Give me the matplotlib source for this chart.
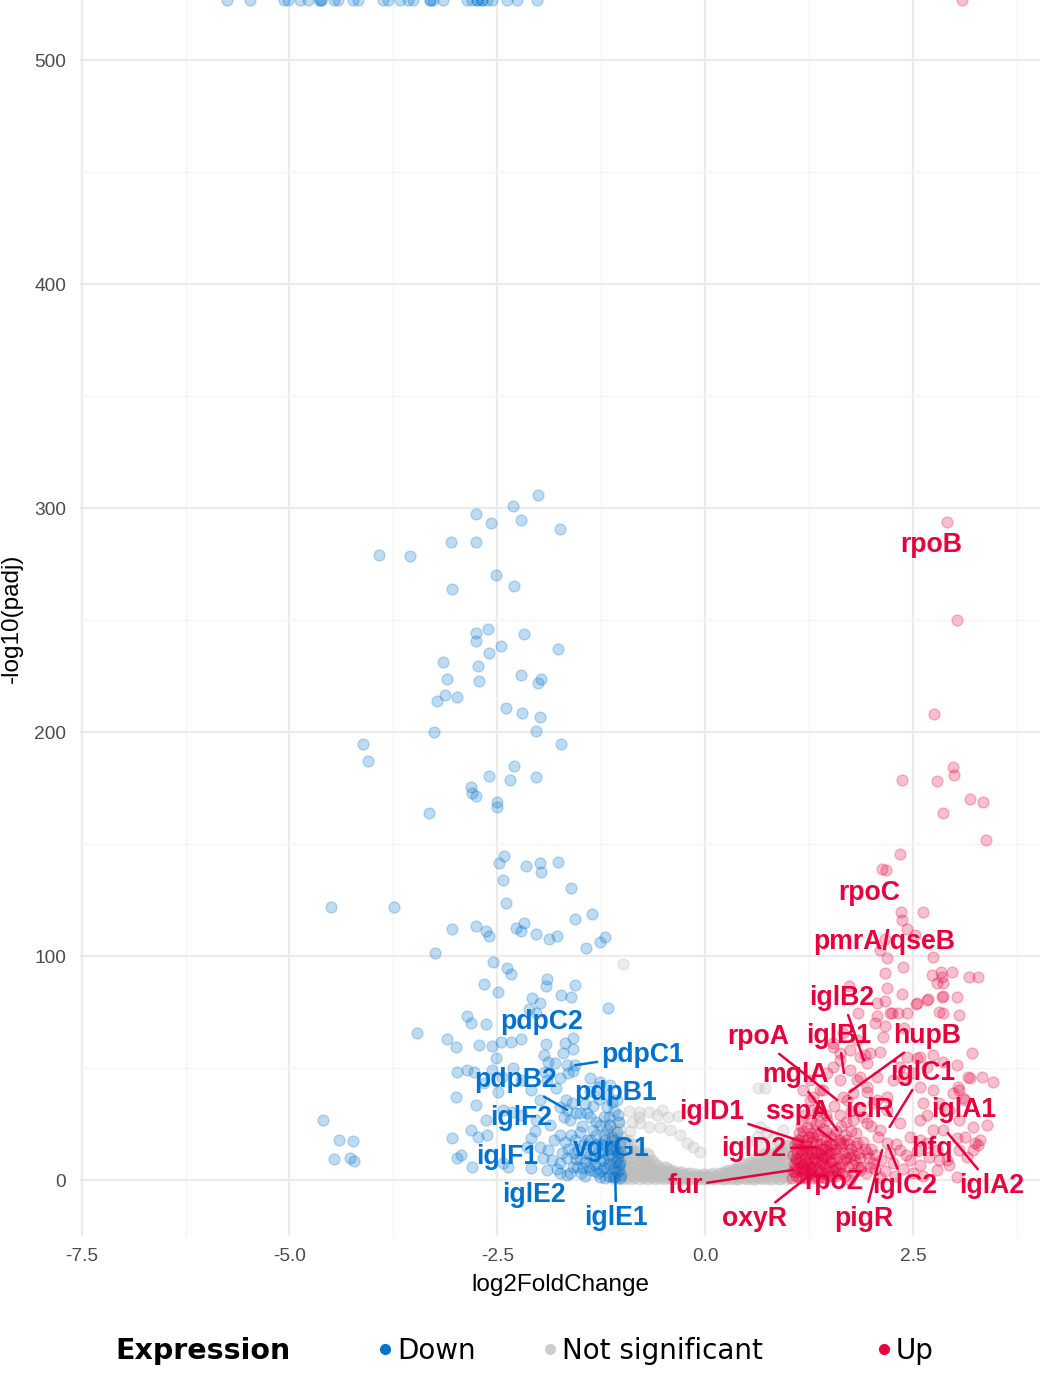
#volcano plot - down / not significant / up genes

import matplotlib.pyplot as plt
from matplotlib.lines import Line2D
from matplotlib.ticker import FixedLocator

col_down = '#0072CE'
col_ns = '#BDBDBD'
col_up = '#E6003C'

#down-regulated genes (log2FoldChange, -log10(padj))
down_pts = [
    (-2.01, 305.8), (-2.31, 300.9), (-2.76, 297.3), (-2.57, 293.3), (-2.22, 294.6), (-1.75, 290.6),
    (-3.06, 284.8), (-2.75, 284.8), (-3.92, 279.0), (-3.55, 278.6), (-2.52, 270.1), (-2.30, 265.2),
    (-3.05, 263.8), (-2.61, 246.0), (-2.75, 244.2), (-2.18, 243.8), (-2.75, 240.6), (-2.46, 238.4),
    (-1.77, 237.1), (-2.60, 235.3), (-3.15, 231.2), (-2.73, 229.5), (-2.22, 225.4), (-1.97, 223.7),
    (-2.01, 221.9), (-3.11, 223.7), (-2.72, 222.8), (-3.13, 216.5), (-2.98, 215.6), (-3.23, 213.8),
    (-2.40, 210.7), (-2.20, 208.5), (-1.98, 206.7), (-2.03, 200.4), (-3.26, 200.0), (-1.73, 194.6),
    (-4.11, 194.6), (-4.06, 187.1), (-2.30, 184.8), (-2.60, 180.4), (-2.03, 179.9), (-2.35, 178.6),
    (-2.82, 175.4), (-2.80, 172.8), (-2.75, 171.4), (-2.50, 168.8), (-2.50, 166.5), (-3.32, 163.8),
    (-2.48, 141.5), (-2.42, 144.6), (-1.98, 141.5), (-1.77, 142.0), (-2.15, 140.2), (-1.97, 137.5),
    (-2.43, 133.9), (-1.61, 130.4), (-4.50, 121.9), (-3.74, 121.9), (-2.39, 123.7), (-1.36, 118.8),
    (-1.56, 116.5), (-2.75, 113.4), (-2.18, 114.7), (-3.04, 112.1), (-2.64, 111.2), (-2.28, 112.5),
    (-2.60, 108.9), (-2.22, 111.2), (-2.04, 109.8), (-1.78, 108.9), (-1.88, 107.6), (-1.20, 108.5),
    (-1.26, 106.3), (-1.43, 103.6), (-3.25, 101.3), (-2.55, 97.3), (-2.38, 94.6), (-2.34, 92.0),
    (-2.66, 87.5), (-2.49, 83.9), (-1.90, 89.7), (-1.91, 86.6), (-1.57, 87.1), (-1.73, 82.6),
    (-1.61, 81.7), (-2.08, 81.3), (-1.98, 79.0), (-2.12, 76.3), (-2.04, 74.6), (-1.17, 76.8),
    (-2.87, 73.2), (-2.82, 70.1), (-2.64, 69.6), (-3.11, 62.9), (-3.00, 59.4), (-2.72, 60.3),
    (-2.56, 59.8), (-2.45, 61.6), (-2.33, 61.6), (-2.21, 62.9), (-1.91, 60.7), (-1.68, 61.2),
    (-1.59, 63.4), (-3.46, 65.6), (-4.60, 26.8), (-4.40, 17.9), (-4.24, 17.4), (-4.46, 9.4),
    (-4.27, 9.8), (-4.22, 8.5),
    (-2.51, 54.5), (-2.56, 49.1), (-2.31, 50.0), (-2.44, 46.0), (-2.99, 48.2), (-2.87, 49.1),
    (-2.78, 48.2), (-3.00, 37.1), (-1.94, 55.8), (-1.89, 52.7), (-1.80, 52.2), (-1.66, 51.3),
    (-1.71, 56.7), (-1.59, 58.5), (-1.92, 48.2), (-1.90, 44.6), (-1.75, 45.5), (-1.65, 47.8),
    (-1.59, 48.7), (-1.38, 45.5), (-1.26, 43.8), (-1.38, 39.7), (-1.29, 41.5), (-1.17, 37.9),
    (-1.06, 35.7), (-1.05, 29.0), (-1.18, 32.6), (-1.79, 41.1), (-1.67, 35.7), (-1.60, 34.4),
    (-1.74, 32.6), (-1.50, 29.9), (-1.38, 28.1), (-1.26, 24.6), (-1.35, 22.3), (-2.43, 31.3),
    (-2.32, 30.4), (-2.20, 29.0), (-2.73, 19.2), (-2.62, 20.1), (-2.98, 9.8), (-2.94, 11.2),
    (-2.80, 5.8), (-2.10, 18.8), (-2.14, 14.7), (-1.98, 14.7), (-1.89, 13.4), (-1.84, 8.9),
    (-1.74, 7.6), (-1.66, 9.8), (-1.59, 5.8), (-1.47, 5.4), (-1.38, 4.5), (-1.29, 3.1),
    (-1.18, 5.4), (-1.06, 3.6), (-1.02, 7.6), (-1.12, 10.3), (-1.24, 12.5), (-1.35, 14.7),
    (-1.42, 17.9), (-1.50, 21.4), (-1.06, 21.4), (-1.02, 17.0), (-2.43, 7.6), (-2.37, 5.8),
    (-2.10, 5.4), (-1.90, 4.5), (-1.74, 3.1), (-1.66, 2.2),
    (-2.66, 43.3), (-2.49, 39.3), (-2.76, 33.5), (-2.63, 26.8), (-2.22, 44.6), (-2.10, 40.2),
    (-1.98, 35.7), (-2.04, 26.8), (-1.86, 24.6), (-1.74, 20.1), (-1.62, 26.8), (-1.56, 17.9),
    (-1.20, 17.9), (-1.14, 24.6), (-1.08, 13.4), (-1.04, 6.7), (-1.01, 2.2), (-1.26, 8.9),
    (-1.38, 11.2), (-1.53, 13.4), (-1.44, 8.0), (-1.32, 6.7), (-1.11, 1.3), (-1.20, 0.9),
    (-1.02, 0.9), (-1.14, 42.4), (-2.82, 22.3), (-3.04, 18.8), (-1.56, 51.3), (-1.66, 31.3),
    (-1.08, 1.3), (-1.45, 2.0), (-1.55, 9.5), (-1.65, 14.0), (-1.30, 16.0), (-1.22, 20.0),
    (-1.15, 28.0), (-1.10, 15.0), (-1.05, 10.0), (-1.16, 7.0), (-1.25, 4.0), (-1.48, 24.0),
    (-1.70, 28.0), (-1.82, 18.0), (-1.95, 10.0), (-2.05, 22.0), (-1.35, 33.0), (-1.28, 36.0),
    (-1.12, 19.0), (-1.18, 23.0), (-1.42, 30.0),
    (-1.03, 4.5), (-1.05, 12.0), (-1.07, 8.0), (-1.09, 18.0), (-1.10, 5.0), (-1.13, 14.0),
    (-1.15, 2.0), (-1.17, 11.0), (-1.19, 15.0), (-1.21, 6.0), (-1.23, 9.0), (-1.25, 16.0),
    (-1.27, 1.5), (-1.29, 12.0), (-1.31, 20.0), (-1.33, 4.0), (-1.36, 9.5), (-1.38, 18.0),
    (-1.40, 6.0), (-1.43, 12.0), (-1.46, 16.0), (-1.49, 3.0), (-1.51, 10.0), (-1.54, 6.0),
    (-1.58, 12.0), (-1.61, 20.0), (-1.63, 3.0), (-1.69, 17.0), (-1.72, 12.0), (-1.78, 5.0),
    (-1.04, 26.0), (-1.09, 31.0), (-1.22, 28.0), (-1.31, 26.0), (-1.45, 34.0), (-1.55, 30.0),
    (-1.12, 35.0), (-1.02, 12.5),
]
#padj == 0 -> -log10 is Inf, ggplot puts those on the top edge
down_inf_x = [-5.75, -5.47, -5.07, -5.02, -4.87, -4.78, -4.65, -4.62, -4.62, -4.47, -4.42, -4.23,
              -4.18, -3.88, -3.82, -3.67, -3.57, -3.51, -3.31, -3.31, -3.27, -3.15, -2.86, -2.80,
              -2.74, -2.74, -2.68, -2.68, -2.62, -2.56, -2.38, -2.26, -2.02]

#not significant
ns_pts = [
    (-1.15, 2), (-1.15, 8), (-1.15, 14), (-1.15, 20), (-1.15, 25),
    (-1.10, 0.5), (-1.10, 4), (-1.10, 10), (-1.10, 16), (-1.10, 22),
    (-1.05, 1), (-1.05, 6), (-1.05, 12), (-1.05, 18), (-1.05, 26),
    (-1.00, 0.5), (-1.00, 3), (-1.00, 7), (-1.00, 11), (-1.00, 15), (-1.00, 19),
    (-0.95, 1), (-0.95, 5), (-0.95, 9), (-0.95, 13), (-0.95, 17),
    (-0.90, 0.5), (-0.90, 3), (-0.90, 6), (-0.90, 10), (-0.90, 14), (-0.90, 22),
    (-0.85, 1), (-0.85, 4), (-0.85, 8), (-0.85, 12), (-0.85, 16),
    (-0.80, 0.5), (-0.80, 2.5), (-0.80, 5), (-0.80, 9), (-0.80, 13), (-0.80, 28),
    (-0.75, 1), (-0.75, 3.5), (-0.75, 7), (-0.75, 10),
    (-0.70, 0.5), (-0.70, 2), (-0.70, 5), (-0.70, 8), (-0.70, 12),
    (-0.65, 1), (-0.65, 3), (-0.65, 6), (-0.65, 9),
    (-0.60, 0.5), (-0.60, 2), (-0.60, 4), (-0.60, 7),
    (-0.55, 1), (-0.55, 3), (-0.55, 5.5),
    (-0.50, 0.5), (-0.50, 2), (-0.50, 4), (-0.50, 6),
    (-0.45, 1), (-0.45, 3), (-0.45, 5),
    (-0.40, 0.5), (-0.40, 2), (-0.40, 4),
    (-0.35, 1), (-0.35, 3), (-0.30, 0.5), (-0.30, 2), (-0.30, 3.5),
    (-0.25, 1), (-0.25, 2.5), (-0.20, 0.3), (-0.20, 1.5), (-0.20, 3),
    (-0.15, 0.8), (-0.15, 2), (-0.10, 0.3), (-0.10, 1.5), (-0.10, 2.5),
    (-0.05, 0.8), (-0.05, 2), (0.00, 0.3), (0.00, 1.5), (0.00, 2.5),
    (0.05, 0.8), (0.05, 2), (0.10, 0.3), (0.10, 1.5), (0.10, 3),
    (0.15, 0.8), (0.15, 2.5), (0.20, 0.3), (0.20, 1.5), (0.20, 3),
    (0.25, 1), (0.25, 2.5), (0.25, 4), (0.30, 0.5), (0.30, 2), (0.30, 3.5),
    (0.35, 1), (0.35, 3), (0.35, 5), (0.40, 0.5), (0.40, 2), (0.40, 4), (0.40, 6),
    (0.45, 1), (0.45, 3), (0.45, 5), (0.50, 0.5), (0.50, 2), (0.50, 4), (0.50, 6.5),
    (0.55, 1), (0.55, 3), (0.55, 5.5), (0.55, 8), (0.60, 0.5), (0.60, 2), (0.60, 4), (0.60, 7),
    (0.65, 1), (0.65, 3), (0.65, 6), (0.65, 9),
    (0.70, 0.5), (0.70, 2.5), (0.70, 5), (0.70, 8), (0.70, 11),
    (0.75, 1), (0.75, 4), (0.75, 7), (0.75, 10),
    (0.80, 0.5), (0.80, 3), (0.80, 6), (0.80, 9), (0.80, 12),
    (0.85, 1.5), (0.85, 5), (0.85, 8), (0.85, 11),
    (0.90, 0.5), (0.90, 3), (0.90, 7), (0.90, 10), (0.90, 14),
    (0.95, 2), (0.95, 6), (0.95, 12), (0.95, 16),
    (1.00, 1), (1.00, 4), (1.00, 9), (1.00, 15),
    (-1.125, 3), (-1.125, 7), (-1.125, 12), (-1.125, 18),
    (-1.075, 2), (-1.075, 8), (-1.075, 14), (-1.075, 20),
    (-1.025, 1.5), (-1.025, 5), (-1.025, 9), (-1.025, 13), (-1.025, 17), (-1.025, 23),
    (-0.975, 2), (-0.975, 4), (-0.975, 8), (-0.975, 12), (-0.975, 16),
    (-0.925, 1.5), (-0.925, 4.5), (-0.925, 8), (-0.925, 12), (-0.925, 18),
    (-0.875, 2), (-0.875, 6), (-0.875, 10), (-0.875, 14),
    (-0.825, 1.5), (-0.825, 3.5), (-0.825, 7), (-0.825, 11), (-0.825, 15),
    (-0.775, 2), (-0.775, 5), (-0.775, 8.5), (-0.775, 12),
    (-0.725, 1.5), (-0.725, 3.5), (-0.725, 6.5), (-0.725, 9.5),
    (-0.675, 2), (-0.675, 4.5), (-0.675, 7.5), (-0.675, 11),
    (-0.625, 1.5), (-0.625, 3.5), (-0.625, 5.5), (-0.625, 8.5),
    (-0.575, 2), (-0.575, 4), (-0.575, 6.5),
    (-0.525, 1), (-0.525, 3), (-0.525, 5),
    (-0.475, 1.5), (-0.475, 3.5), (-0.475, 6),
    (-0.425, 1), (-0.425, 3), (-0.425, 4.5),
    (-0.375, 0.5), (-0.375, 2), (-0.375, 4),
    (-0.325, 1.5), (-0.325, 3), (-0.275, 0.5), (-0.275, 2), (-0.275, 3.5),
    (-0.225, 1), (-0.225, 2.5), (-0.175, 0.3), (-0.175, 1.5), (-0.175, 3),
    (-0.125, 1), (-0.125, 2.5), (-0.075, 0.3), (-0.075, 1.8), (-0.025, 1), (-0.025, 2.8),
    (0.025, 0.3), (0.025, 1.8), (0.075, 1), (0.075, 2.8), (0.125, 0.3), (0.125, 2),
    (0.175, 1), (0.175, 3), (0.225, 0.5), (0.225, 2), (0.225, 3.5),
    (0.275, 1.5), (0.275, 3), (0.275, 4.5), (0.325, 1), (0.325, 2.5), (0.325, 4.5),
    (0.375, 0.5), (0.375, 2), (0.375, 4), (0.375, 5.5),
    (0.425, 1.5), (0.425, 3.5), (0.425, 5.5), (0.425, 7),
    (0.475, 1), (0.475, 2.5), (0.475, 4.5), (0.475, 7),
    (0.525, 1.5), (0.525, 3.5), (0.525, 5), (0.525, 8),
    (0.575, 0.5), (0.575, 2), (0.575, 4.5), (0.575, 7), (0.575, 9),
    (0.625, 1.5), (0.625, 3.5), (0.625, 5.5), (0.625, 8.5),
    (0.675, 1), (0.675, 2), (0.675, 4.5), (0.675, 7), (0.675, 10),
    (0.725, 1.5), (0.725, 3.5), (0.725, 6.5), (0.725, 9.5), (0.725, 12),
    (0.775, 0.5), (0.775, 2.5), (0.775, 5.5), (0.775, 8.5), (0.775, 11.5),
    (0.825, 1.5), (0.825, 4), (0.825, 7.5), (0.825, 10.5), (0.825, 14),
    (0.875, 0.5), (0.875, 3), (0.875, 6.5), (0.875, 9.5), (0.875, 13),
    (0.925, 1.5), (0.925, 4.5), (0.925, 8.5), (0.925, 11.5),
    (0.975, 0.5), (0.975, 3.5), (0.975, 7.5), (0.975, 10.5), (0.975, 14),
    (1.025, 2), (1.025, 6), (1.025, 11), (1.025, 16),
    (-0.99, 96.4), (-0.52, 31.3), (0.64, 41.1), (0.72, 41.1), (0.66, 23.7), (-0.92, 31.0),
    (-0.80, 30.4), (-0.68, 30.4), (-0.58, 29.0), (-0.88, 25.9), (-0.78, 25.4), (-0.68, 23.7),
    (-0.54, 23.7), (-0.42, 22.3), (-0.30, 20.1), (-0.45, 28.0), (-0.33, 28.6), (-0.22, 16.5),
    (-0.15, 14.7), (-0.06, 12.5), (0.50, 16.5), (0.62, 19.2), (0.74, 21.4), (0.82, 18.8),
    (0.90, 16.5), (0.94, 22.3), (0.70, 14.7),
]

#up-regulated genes
up_pts = [
    (2.91, 293.8), (3.03, 250.0), (2.75, 208.0), (2.98, 184.4), (2.99, 181.0), (2.79, 178.1),
    (2.37, 178.6), (3.19, 170.1), (3.34, 168.8), (2.86, 163.8), (3.38, 151.8), (2.34, 145.5),
    (2.13, 138.8), (2.18, 138.4), (2.36, 119.6), (2.62, 119.6), (2.37, 116.1), (2.43, 112.1),
    (2.52, 109.4), (2.16, 107.6), (2.10, 102.7), (2.19, 99.1), (2.74, 99.6), (2.38, 95.1),
    (2.16, 92.4), (2.73, 91.5), (2.84, 92.9), (2.97, 92.9), (2.85, 90.6), (2.79, 87.9),
    (3.17, 90.6), (3.28, 90.6), (1.73, 86.6), (2.19, 85.7), (2.37, 83.0), (2.16, 79.9),
    (2.85, 81.7), (2.86, 82.0), (3.03, 81.7), (2.68, 80.8), (2.54, 78.6), (2.81, 75.0),
    (3.06, 73.7), (1.84, 74.6), (2.07, 73.2), (2.25, 74.6), (2.32, 74.6), (2.04, 70.1),
    (2.16, 68.8), (2.39, 67.9), (2.14, 63.8), (1.83, 62.5), (1.66, 65.6), (1.54, 61.2),
    (1.62, 53.6), (1.74, 49.1), (1.86, 46.0), (2.07, 46.0), (2.26, 44.6), (2.38, 46.0),
    (2.58, 41.5), (2.74, 40.2), (2.82, 34.4), (2.62, 34.4), (2.94, 31.3), (2.67, 29.0),
    (2.74, 22.3), (3.06, 26.8), (3.22, 23.7), (2.58, 17.9), (2.70, 10.3), (3.06, 13.4),
    (3.22, 13.4), (3.15, 10.3), (2.79, 4.5), (3.03, 1.3), (1.92, 55.8), (1.98, 56.7),
    (2.10, 57.1), (2.43, 54.9), (2.55, 54.5), (2.74, 55.8), (3.21, 56.7), (3.03, 51.3),
    (3.19, 45.5), (3.33, 46.0), (3.46, 43.8), (3.06, 40.2), (3.13, 35.7), (3.39, 24.6),
    (2.86, 22.3), (3.03, 18.8), (3.13, 19.2), (3.31, 17.9), (2.79, 13.4), (2.58, 6.7),
    (2.94, 6.7), (2.82, 8.9), (2.67, 16.5), (2.46, 19.2), (2.34, 25.4), (2.58, 26.8),
    (2.19, 31.3), (2.07, 35.7), (1.95, 39.3), (1.78, 38.8), (1.66, 37.1), (1.38, 40.2),
    (1.26, 35.7), (1.30, 31.3), (1.38, 31.3), (1.47, 26.8), (1.78, 26.8), (1.95, 25.4),
    (2.10, 22.3), (2.19, 16.5), (2.34, 13.4), (2.46, 8.9), (2.26, 7.6), (2.02, 7.6),
    (1.95, 12.1), (1.83, 16.5), (1.74, 10.3), (1.66, 16.5), (1.62, 16.5), (1.30, 19.2),
    (1.23, 23.7), (1.18, 13.4), (1.42, 10.3), (1.54, 4.5), (1.86, 4.5), (2.10, 1.3),
    (1.74, 0.0), (1.42, 1.3), (1.26, 5.8), (2.07, 79.0), (2.55, 79.0), (2.67, 80.4),
    (2.86, 87.9), (2.43, 74.6), (2.22, 74.6), (2.86, 74.6), (2.86, 52.7), (3.16, 46.0),
    (3.04, 41.5), (2.98, 38.8), (3.10, 36.6), (3.28, 15.6), (3.25, 16.5), (2.91, 8.9),
    (1.54, 59.4), (1.62, 56.7), (1.74, 58.0), (1.86, 54.9), (1.95, 52.2), (1.54, 50.4),
    (1.47, 47.8), (1.26, 44.6), (1.18, 40.2), (1.30, 37.1), (1.42, 40.2), (1.62, 44.6),
    (1.83, 44.6), (1.95, 41.5), (1.71, 35.7), (1.86, 32.6), (2.02, 34.4), (2.19, 37.1),
    (2.34, 50.4), (2.50, 47.8), (2.58, 54.9), (2.67, 50.4),
    (1.10, 2), (1.12, 5), (1.14, 8), (1.15, 11), (1.15, 14), (1.13, 1), (1.18, 3), (1.18, 7),
    (1.20, 10), (1.20, 16), (1.22, 1), (1.22, 5), (1.24, 12), (1.25, 19), (1.26, 3), (1.27, 8),
    (1.28, 14), (1.30, 1), (1.30, 6), (1.31, 10), (1.32, 22), (1.33, 4), (1.34, 16), (1.35, 8),
    (1.36, 1), (1.37, 12), (1.38, 26), (1.40, 4), (1.40, 18), (1.42, 7), (1.43, 14), (1.44, 1),
    (1.45, 10), (1.46, 22), (1.48, 4), (1.50, 16), (1.50, 8), (1.52, 12), (1.53, 2), (1.55, 20),
    (1.56, 6), (1.58, 14), (1.60, 3), (1.60, 10), (1.63, 24), (1.64, 7), (1.66, 12), (1.68, 2),
    (1.70, 18), (1.72, 6), (1.75, 14), (1.78, 3), (1.80, 9), (1.82, 21), (1.85, 12), (1.88, 6),
    (1.90, 17), (1.94, 3), (1.97, 10), (2.00, 14), (2.04, 5), (2.08, 19), (2.12, 9), (2.16, 4),
    (2.22, 12), (2.28, 2), (2.30, 16), (2.38, 5), (2.42, 11), (2.50, 3), (2.55, 13), (2.62, 2),
    (1.16, 24), (1.19, 29), (1.28, 27), (1.36, 31), (1.45, 29), (1.55, 33), (1.62, 29), (1.70, 26),
    (1.76, 31), (1.90, 28), (2.00, 24), (1.12, 18), (1.10, 9), (1.13, 21),
    (1.05, 1), (1.08, 3.5), (1.10, 6), (1.12, 9), (1.16, 4), (1.20, 2), (1.24, 7), (1.28, 3),
    (1.32, 9), (1.36, 5), (1.40, 11), (1.44, 6), (1.48, 2), (1.52, 8), (1.56, 12), (1.06, 11),
    (1.09, 14), (1.11, 17), (1.17, 19), (1.21, 13), (1.27, 21), (1.34, 13), (1.39, 8), (1.46, 15),
    (1.51, 19), (1.57, 2), (1.62, 6), (1.67, 9), (1.72, 12), (1.77, 7),
    (1.07, 7), (1.09, 10), (1.11, 12), (1.14, 16), (1.17, 1), (1.19, 5), (1.21, 8), (1.23, 15),
    (1.25, 10), (1.27, 5), (1.29, 17), (1.31, 2), (1.33, 12), (1.35, 20), (1.37, 3), (1.39, 14),
    (1.41, 9), (1.43, 3), (1.45, 18), (1.47, 11), (1.49, 6), (1.51, 14), (1.54, 9), (1.58, 5),
    (1.61, 18), (1.65, 3), (1.69, 10), (1.73, 16), (1.79, 11), (1.84, 6), (1.06, 4), (1.08, 16),
    (1.15, 6), (1.18, 22), (1.23, 18), (1.29, 12), (1.33, 25), (1.38, 16), (1.42, 23), (1.48, 13),
    (1.53, 16), (1.58, 22), (1.64, 15), (1.68, 20), (1.75, 22), (1.81, 15), (1.87, 10), (1.93, 14),
    (1.99, 6), (2.05, 11),
]
up_inf_x = [3.09]

#labelled genes: name, group, gene point, label position, draw segment?
lab_gene = ['pdpC2', 'pdpC1', 'pdpB2', 'pdpB1', 'iglF2', 'iglF1', 'vgrG1', 'iglE2', 'iglE1',
            'rpoB', 'rpoC', 'pmrA/qseB', 'iglB2', 'rpoA', 'iglB1', 'hupB', 'mglA', 'iglC1',
            'iclR', 'iglA1', 'hfq', 'sspA', 'iglD1', 'iglD2', 'fur', 'rpoZ', 'oxyR', 'pigR',
            'iglC2', 'iglA2']
lab_group = ['Down'] * 9 + ['Up'] * 21
lab_px = [-1.96, -1.56, -1.66, -1.08, -2.21, -2.38, -1.13, -2.06, -1.08,
          2.91, 1.97, 2.16, 1.91, 1.59, 1.67, 1.74, 1.59, 2.22,
          1.98, 3.11, 2.73, 1.53, 1.18, 1.35, 1.06, 1.55, 1.23, 2.13,
          2.20, 2.92]
lab_py = [70.5, 51.3, 31.3, 38.8, 27.7, 10.3, 13.8, -6.7, 1.3,
          293.8, 128.1, 106.3, 53.6, 35.7, 47.8, 39.3, 22.3, 23.7,
          31.3, 31.3, 13.8, 17.9, 17.0, 14.7, 4.5, -0.9, 1.3, 13.4,
          15.6, 21.0]
lab_tx = [-1.96, -0.75, -2.28, -1.08, -2.21, -2.38, -1.13, -2.06, -1.07,
          2.72, 1.97, 2.16, 1.65, 0.64, 1.61, 2.67, 1.09, 2.62,
          1.98, 3.11, 2.73, 1.11, 0.08, 0.59, -0.24, 1.55, 0.59, 1.91,
          2.40, 3.45]
lab_ty = [70.5, 55.8, 44.6, 38.8, 27.7, 10.3, 13.8, -6.7, -17.0,
          283.5, 128.1, 106.3, 81.3, 63.8, 64.3, 64.3, 46.9, 47.8,
          31.3, 31.3, 13.8, 30.4, 30.4, 13.8, -2.7, -0.9, -17.4, -17.4,
          -2.7, -2.7]
lab_seg = [False, True, True, False, False, False, False, False, True,
           False, False, False, True, True, True, True, True, True,
           False, False, False, True, True, True, True, False, True, True,
           True, True]

fig = plt.figure(figsize=(10.42, 13.75), dpi=100)
ax = fig.add_axes([0.0768, 0.1011, 0.9213, 0.8989])
ax.set_xlim(-7.52, 4.03)
ax.set_ylim(-25, 527)
top = ax.get_ylim()[1]

#theme_minimal-ish grid
ax.xaxis.set_major_locator(FixedLocator([-7.5, -5, -2.5, 0, 2.5]))
ax.xaxis.set_minor_locator(FixedLocator([-6.25, -3.75, -1.25, 1.25, 3.75]))
ax.yaxis.set_major_locator(FixedLocator([0, 100, 200, 300, 400, 500]))
ax.yaxis.set_minor_locator(FixedLocator([50, 150, 250, 350, 450]))
ax.set_xticklabels(['-7.5', '-5.0', '-2.5', '0.0', '2.5'])
ax.set_yticklabels(['0', '100', '200', '300', '400', '500'])
ax.grid(which='major', color='#EBEBEB', lw=1.6, zorder=0)
ax.grid(which='minor', color='#F3F3F3', lw=0.9, zorder=0)
ax.set_axisbelow(True)
for s in ax.spines.values():
    s.set_visible(False)
ax.tick_params(which='both', length=0)
ax.tick_params(axis='x', pad=9, labelsize=13.8, labelcolor='#4D4D4D')
ax.tick_params(axis='y', pad=10, labelsize=13.8, labelcolor='#4D4D4D')
for t in ax.get_xticklabels() + ax.get_yticklabels():
    t.set_family('Liberation Sans')

pt_kw = dict(s=62, alpha=0.25, linewidths=1.0)
nx, ny = zip(*ns_pts)
ax.scatter(nx, ny, color=col_ns, zorder=2, s=62, alpha=0.3, linewidths=1.0)
dx, dy = zip(*down_pts)
ax.scatter(dx, dy, color=col_down, zorder=3, **pt_kw)
ax.scatter(down_inf_x, [top] * len(down_inf_x), color=col_down, zorder=3, **pt_kw)
ux, uy = zip(*up_pts)
ax.scatter(ux, uy, color=col_up, zorder=3, **pt_kw)
ax.scatter(up_inf_x, [top] * len(up_inf_x), color=col_up, zorder=3, **pt_kw)

#gene labels (ggrepel style)
for g, grp, px, py, tx, ty, seg in zip(lab_gene, lab_group, lab_px, lab_py, lab_tx, lab_ty, lab_seg):
    c = col_down if grp == 'Down' else col_up
    arrow = dict(arrowstyle='-', color=c, lw=1.8, shrinkA=1, shrinkB=0) if seg else None
    ax.annotate(g, xy=(px, py), xytext=(tx, ty), ha='center', va='center',
                fontsize=19.2, fontweight='bold', family='Liberation Sans', color=c,
                arrowprops=arrow, zorder=5)

ax.set_xlabel('log2FoldChange', fontsize=17.5, family='Liberation Sans', labelpad=6)
ax.set_ylabel('-log10(padj)', fontsize=17.5, family='Liberation Sans', labelpad=8)

#legend at the bottom
fig.text(0.111, 0.0175, 'Expression', fontsize=20.5, fontweight='bold', family='DejaVu Sans',
         va='center', ha='left')
leg_names = ['Down', 'Not significant', 'Up']
leg_cols = [col_down, '#CCCCCC', col_up]
leg_x = [0.3642, 0.5226, 0.8431]
for name, c, lx in zip(leg_names, leg_cols, leg_x):
    h = Line2D([], [], marker='o', ls='', color=c, markersize=7)
    lg = fig.legend([h], [name], loc='center left', bbox_to_anchor=(lx, 0.0175),
                    frameon=False, borderpad=0, borderaxespad=0, handlelength=0.4,
                    handletextpad=0.23, prop={'family': 'DejaVu Sans', 'size': 20})

fig.savefig('out.png', dpi=100)
